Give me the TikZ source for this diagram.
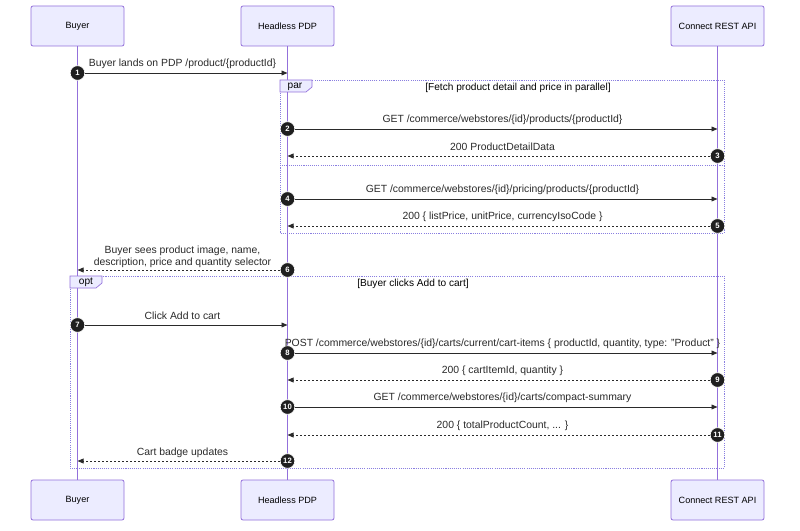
\documentclass[tikz,border=0pt]{standalone}
\usepackage{fontspec}
\setmainfont{Liberation Sans}
\usetikzlibrary{arrows.meta}
\definecolor{actfill}{HTML}{ECECFF}
\definecolor{actline}{HTML}{9370DB}
\definecolor{txt}{HTML}{2A2A2A}
\definecolor{loopc}{HTML}{8A7FE0}
\begin{document}
\begin{tikzpicture}[x=0.75pt,y=-0.75pt,
  actor/.style={draw=actline, line width=0.6pt, fill=actfill, rounded corners=1.5pt,
    minimum width=69.75pt, minimum height=30pt, inner sep=0pt,
    font=\fontsize{6.8}{8}\selectfont, text=black},
  lifeline/.style={draw=actline, line width=0.8pt},
  msg/.style={draw=txt, line width=0.7pt, -{Triangle[length=4.5pt,width=3.6pt]}},
  reply/.style={msg, dash pattern=on 1.5pt off 1.5pt},
  num/.style={circle, fill=black!88, draw=white, line width=0.5pt, inner sep=0pt, minimum size=11pt,
    text=white, font=\fontsize{5.8}{6}\bfseries\selectfont},
  lbl/.style={inner sep=0pt, text=txt, font=\fontsize{7.8}{9.2}\selectfont, align=center},
  loopbox/.style={draw=loopc, line width=0.6pt, dash pattern=on 0.8pt off 0.8pt},
  tabbox/.style={draw=actline, line width=0.5pt, fill=actfill},
  looplbl/.style={inner sep=0pt, text=black, font=\fontsize{7.6}{9}\selectfont}
]
\useasboundingbox[fill=white] (0,0) rectangle (800,531);

% actors
\node[actor] (buyerT) at (77.5,26) {Buyer};
\node[actor] (pdpT) at (287.5,26) {Headless PDP};
\node[actor] (apiT) at (717.5,26) {Connect REST API};
\node[actor] (buyerB) at (77.5,500) {Buyer};
\node[actor] (pdpB) at (287.5,500) {Headless PDP};
\node[actor] (apiB) at (717.5,500) {Connect REST API};

\draw[lifeline] (buyerT) -- (buyerB);
\draw[lifeline] (pdpT) -- (pdpB);
\draw[lifeline] (apiT) -- (apiB);

% par frame
\draw[loopbox] (280,80) rectangle (724,233);
\draw[loopbox] (280,165) -- (724,165);
\draw[tabbox] (280,80) -- (312,80) -- (312,87) -- (306,92) -- (280,92) -- cycle;
\node[looplbl] (parT) at (295,86.5) {par};
\node[looplbl] (parL) at (518,87.5) {[Fetch product detail and price in parallel]};

% opt frame
\draw[loopbox] (70,276) rectangle (724,468);
\draw[tabbox] (70,276) -- (102,276) -- (102,283) -- (96,288) -- (70,288) -- cycle;
\node[looplbl] (optT) at (86,282.5) {opt};
\node[looplbl] (optL) at (413,283.5) {[Buyer clicks Add to cart]};

% message end points
\coordinate (e1) at (287.5,73);
\coordinate (e2) at (717.5,129);
\coordinate (e3) at (287.5,156);
\coordinate (e4) at (717.5,199);
\coordinate (e5) at (287.5,226);
\coordinate (e6) at (77.5,270);
\coordinate (e7) at (287.5,325);
\coordinate (e8) at (717.5,353);
\coordinate (e9) at (287.5,380);
\coordinate (e10) at (717.5,407);
\coordinate (e11) at (287.5,435);
\coordinate (e12) at (77.5,461);

% number badges
\node[num] (n1) at (77.5,73) {1};
\node[num] (n2) at (287.5,129) {2};
\node[num] (n3) at (717.5,156) {3};
\node[num] (n4) at (287.5,199) {4};
\node[num] (n5) at (717.5,226) {5};
\node[num] (n6) at (287.5,270) {6};
\node[num] (n7) at (77.5,325) {7};
\node[num] (n8) at (287.5,353) {8};
\node[num] (n9) at (717.5,380) {9};
\node[num] (n10) at (287.5,407) {10};
\node[num] (n11) at (717.5,435) {11};
\node[num] (n12) at (287.5,461) {12};

% messages
\draw[msg] (n1) -- (e1);
\draw[msg] (n2) -- (e2);
\draw[reply] (n3) -- (e3);
\draw[msg] (n4) -- (e4);
\draw[reply] (n5) -- (e5);
\draw[reply] (n6) -- (e6);
\draw[msg] (n7) -- (e7);
\draw[msg] (n8) -- (e8);
\draw[reply] (n9) -- (e9);
\draw[msg] (n10) -- (e10);
\draw[reply] (n11) -- (e11);
\draw[reply] (n12) -- (e12);

% labels
\node[lbl] (l1) at (182.5,64) {Buyer lands on PDP /product/\{productId\}};
\node[lbl] (l2) at (502.5,120) {GET /commerce/webstores/\{id\}/products/\{productId\}};
\node[lbl] (l3) at (502.5,147) {200 ProductDetailData};
\node[lbl] (l4) at (502.5,190) {GET /commerce/webstores/\{id\}/pricing/products/\{productId\}};
\node[lbl] (l5) at (502.5,217) {200 \{ listPrice, unitPrice, currencyIsoCode \}};
\node[lbl] (l6) at (182.5,257) {Buyer sees product image, name,\\description, price and quantity selector};
\node[lbl] (l7) at (182.5,316) {Click Add to cart};
\node[lbl] (l8) at (502.5,344) {POST /commerce/webstores/\{id\}/carts/current/cart-items \{ productId, quantity, type: "Product" \}};
\node[lbl] (l9) at (502.5,371) {200 \{ cartItemId, quantity \}};
\node[lbl] (l10) at (502.5,398) {GET /commerce/webstores/\{id\}/carts/compact-summary};
\node[lbl] (l11) at (502.5,426) {200 \{ totalProductCount, ... \}};
\node[lbl] (l12) at (182.5,453) {Cart badge updates};
\end{tikzpicture}
\end{document}
